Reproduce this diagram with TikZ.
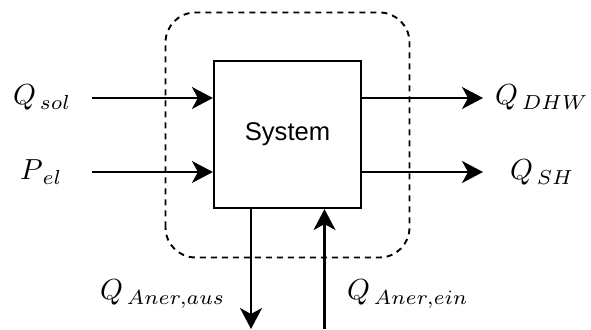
\documentclass[tikz,border=0pt]{standalone}
\usepackage{fontspec}
\usepackage{graphicx}
\newfontfamily\boxfont{Liberation Sans}
\usetikzlibrary{arrows.meta}
% large quantity symbol with a slightly detached subscript
\newcommand{\biglabel}[2]{\scalebox{2.9}{$#1_{\kern1.3pt #2}$}}
\begin{document}
\begin{tikzpicture}[x=1pt,y=1pt,
  flow/.style={line width=2.2pt,-{Stealth[length=21pt,width=22pt,inset=6pt]}},
  boundary/.style={line width=1.9pt,dash pattern=on 6pt off 5pt,rounded corners=30pt},
  sysbox/.style={draw,line width=2.2pt,minimum width=147pt,minimum height=147pt,inner sep=0pt,
    font=\boxfont\fontsize{25.6}{30}\selectfont},
  qlabel/.style={inner sep=0pt}]
\useasboundingbox (0,0) rectangle (591,329);

% system boundary
\draw[boundary] (165.5,71.5) rectangle (409.5,316.5);

% the system itself
\node[sysbox] (sys) at (287.5,194.5) {System};

% free ends of the flows
\coordinate (insol) at (92,231);
\coordinate (inel) at (92,157);
\coordinate (outdhw) at (483,231);
\coordinate (outsh) at (483,157);
\coordinate (aus) at (251,0);
\coordinate (ein) at (324.5,0);

% labels
\node[qlabel,anchor=base west] (lsol) at (13,224) {\biglabel{Q}{sol}};
\node[qlabel,anchor=base west] (lel) at (20,149) {\biglabel{P}{el}};
\node[qlabel,anchor=base west] (ldhw) at (495,224) {\biglabel{Q}{DHW}};
\node[qlabel,anchor=base west] (lsh) at (510,149) {\biglabel{Q}{SH}};
\node[qlabel,anchor=base west] (laus) at (100,29) {\biglabel{Q}{Aner,aus}};
\node[qlabel,anchor=base west] (lein) at (347,29) {\biglabel{Q}{Aner,ein}};

% flows
\draw[flow] (insol) -- (sys.west |- insol);
\draw[flow] (inel) -- (sys.west |- inel);
\draw[flow] (sys.east |- outdhw) -- (outdhw);
\draw[flow] (sys.east |- outsh) -- (outsh);
\draw[flow] (sys.south -| aus) -- (aus);
\draw[flow] (ein) -- (sys.south -| ein);
\end{tikzpicture}
\end{document}
